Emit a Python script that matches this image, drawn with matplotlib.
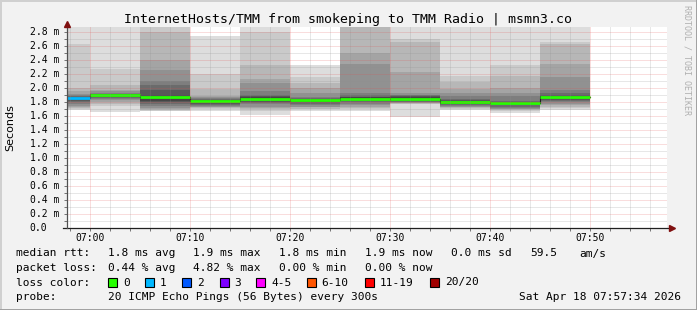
import matplotlib
matplotlib.use("Agg")
import matplotlib.pyplot as plt
from matplotlib.patches import Rectangle
from matplotlib.lines import Line2D

# step end times in minutes after 07:00 (each step covers the 5 minutes before it)
step_end = [0, 5, 10, 15, 20, 25, 30, 35, 40, 45, 50]
# lost pings per step (out of 20)
loss = [1, 0, 0, 0, 0, 0, 0, 0, 0, 0, 0]
# 20 sorted round trip times per step, ms
pings = [
    [1.69, 1.71, 1.72, 1.73, 1.75, 1.77, 1.80, 1.82, 1.84, 1.855, 1.865, 1.87, 1.88, 1.89, 1.90, 1.92, 1.96, 2.01, 2.63, 3.10],
    [1.66, 1.745, 1.77, 1.80, 1.83, 1.845, 1.86, 1.875, 1.89, 1.905, 1.91, 1.915, 1.92, 1.925, 1.93, 1.96, 1.98, 2.05, 2.28, 3.00],
    [1.67, 1.68, 1.69, 1.70, 1.72, 1.75, 1.77, 1.80, 1.82, 1.87, 1.89, 1.91, 1.98, 2.04, 2.11, 2.26, 2.41, 2.81, 2.95, 3.00],
    [1.67, 1.71, 1.72, 1.73, 1.74, 1.75, 1.76, 1.775, 1.80, 1.815, 1.825, 1.83, 1.84, 1.85, 1.86, 1.87, 1.89, 1.99, 2.21, 2.75],
    [1.62, 1.68, 1.70, 1.72, 1.74, 1.77, 1.79, 1.81, 1.83, 1.845, 1.855, 1.87, 1.89, 1.91, 1.96, 2.08, 2.14, 2.33, 2.81, 3.00],
    [1.67, 1.70, 1.71, 1.73, 1.74, 1.76, 1.78, 1.80, 1.81, 1.825, 1.835, 1.84, 1.85, 1.86, 1.87, 1.93, 2.00, 2.08, 2.16, 2.34],
    [1.67, 1.70, 1.72, 1.74, 1.76, 1.78, 1.80, 1.82, 1.835, 1.845, 1.86, 1.87, 1.88, 1.91, 1.93, 2.35, 2.50, 2.95, 3.00, 3.10],
    [1.585, 1.77, 1.78, 1.785, 1.79, 1.80, 1.81, 1.82, 1.83, 1.845, 1.86, 1.875, 1.89, 1.90, 1.91, 1.93, 2.24, 2.66, 2.71, 3.10],
    [1.69, 1.71, 1.72, 1.73, 1.74, 1.75, 1.76, 1.77, 1.78, 1.795, 1.805, 1.815, 1.83, 1.85, 1.89, 1.93, 1.99, 2.09, 2.18, 3.00],
    [1.65, 1.68, 1.69, 1.70, 1.71, 1.72, 1.73, 1.77, 1.78, 1.79, 1.795, 1.80, 1.81, 1.82, 1.89, 1.94, 2.01, 2.18, 2.33, 3.00],
    [1.69, 1.72, 1.74, 1.76, 1.78, 1.80, 1.82, 1.84, 1.86, 1.875, 1.885, 1.895, 1.91, 1.93, 1.97, 2.16, 2.35, 2.63, 2.66, 3.00],
]

x_ticks = [0, 10, 20, 30, 40, 50]
x_labels = ["07:00", "07:10", "07:20", "07:30", "07:40", "07:50"]
y_ticks = [0.0, 0.2, 0.4, 0.6, 0.8, 1.0, 1.2, 1.4, 1.6, 1.8, 2.0, 2.2, 2.4, 2.6, 2.8]

loss_labels = ["0", "1", "2", "3", "4-5", "6-10", "11-19", "20/20"]
loss_colors = ["#26ff00", "#00b8ff", "#0059ff", "#7e00ff", "#ff00ff", "#ff5500", "#ff0000", "#a00000"]

rtt_stats = ["1.8 ms avg", "1.9 ms max", "1.8 ms min", "1.9 ms now", "0.0 ms sd"]
loss_stats = ["0.44 % avg", "4.82 % max", "0.00 % min", "0.00 % now"]

W, H = 697, 310
MONO = "DejaVu Sans Mono"


def fx(x):
    return x / W


def fy(y):
    return 1 - y / H


def loss_index(n):
    if n <= 3:
        return n
    if n <= 5:
        return 4
    if n <= 10:
        return 5
    if n <= 19:
        return 6
    return 7


fig = plt.figure(figsize=(W / 100, H / 100), dpi=100, facecolor="#f2f2f2")
ax = fig.add_axes([fx(67), fy(228.3), fx(600), 201 / H])
ax.set_facecolor("white")
ax.set_xlim(-140 / 60, 57.6667)
ax.set_ylim(0, 201 / 70)
for s in ax.spines.values():
    s.set_visible(False)

# smoke: band i spans ping i .. ping 21-i, darker towards the middle
shades = ["#%02x%02x%02x" % ((int(190 / 10 * (10 - i)) + 50,) * 3) for i in range(1, 11)]
for k, t in enumerate(step_end):
    p = pings[k]
    for i in range(10):
        ax.bar(t - 5, p[19 - i] - p[i], bottom=p[i], width=5, align="edge",
               color=shades[i], linewidth=0, zorder=1)

# median line
xs, ys = [], []
for k, t in enumerate(step_end):
    med = (pings[k][9] + pings[k][10]) / 2
    xs += [t - 5, t]
    ys += [med, med]
ax.plot(xs, ys, color="#202020", lw=0.8, zorder=3)
for k, t in enumerate(step_end):
    med = (pings[k][9] + pings[k][10]) / 2
    ax.hlines(med, t - 5, t, color=loss_colors[loss_index(loss[k])], lw=2.0, zorder=4)

# grid, drawn on top like rrdtool
dot = (0, (1, 1))
for m in range(-2, 58, 2):
    if m % 10 == 0:
        ax.axvline(m, color="#e05050", alpha=0.38, lw=0.72, ls=dot, zorder=5)
    else:
        ax.axvline(m, color="#909090", alpha=0.42, lw=0.72, ls=dot, zorder=5)
for j in range(1, 29):
    v = j / 10
    if j % 2 == 0:
        ax.axhline(v, color="#e05050", alpha=0.38, lw=0.72, ls=dot, zorder=5)
    else:
        ax.axhline(v, color="#909090", alpha=0.42, lw=0.72, ls=dot, zorder=5)

ax.set_xticks(list(range(-2, 58, 2)))
ax.set_yticks([j / 10 for j in range(0, 29)])
ax.tick_params(direction="out", length=2, width=0.6, color="#606060",
               labelbottom=False, labelleft=False)

# axes with arrows
ax.plot([-0.006, 1.007], [0, 0], transform=ax.transAxes, color="#202020", lw=0.9,
        clip_on=False, zorder=6)
ax.plot([0, 0], [0, 1.012], transform=ax.transAxes, color="#505050", lw=0.9,
        clip_on=False, zorder=6)
ax.plot([1.009], [0], marker=">", ms=4, color="#801010", transform=ax.transAxes,
        clip_on=False, zorder=7)
ax.plot([0], [1.014], marker="^", ms=4, color="#801010", transform=ax.transAxes,
        clip_on=False, zorder=7)

# tick labels
for t, lab in zip(x_ticks, x_labels):
    fig.text(fx(67 + (t + 140 / 60) * 10), fy(238), lab, ha="center", va="center",
             fontsize=7, family=MONO)
for v in y_ticks:
    lab = "%.1f" % v if v == 0 else "%.1f m" % v
    fig.text(fx(29.5), fy(228.3 - v * 70), lab, ha="left", va="center",
             fontsize=7, family=MONO)

fig.text(fx(10), fy(128), "Seconds", rotation=90, ha="center", va="center", fontsize=8)
fig.text(fx(348), fy(19), "InternetHosts/TMM from smokeping to TMM Radio | msmn3.co",
         ha="center", va="center", fontsize=9.5, family=MONO)
fig.text(fx(687), fy(5), "RRDTOOL / TOBI OETIKER", rotation=-90, ha="center", va="top",
         fontsize=6, family=MONO, color="#b0b0b0")

# legend block
rows = [253.5, 268, 282.5, 297]
col = [107.6, 193, 279, 365, 451]
fig.text(fx(16), fy(rows[0]), "median rtt:", va="center", fontsize=8, family=MONO)
for c, s in zip(col, rtt_stats):
    fig.text(fx(c), fy(rows[0]), s, va="center", fontsize=8, family=MONO)
fig.text(fx(530), fy(rows[0]), "59.5", va="center", fontsize=8, family=MONO)
fig.text(fx(579), fy(rows[0]), "am/s", va="center", fontsize=8, family=MONO)

fig.text(fx(16), fy(rows[1]), "packet loss:", va="center", fontsize=8, family=MONO)
for c, s in zip(col, loss_stats):
    fig.text(fx(c), fy(rows[1]), s, va="center", fontsize=8, family=MONO)

fig.text(fx(16), fy(rows[2]), "loss color:", va="center", fontsize=8, family=MONO)
box_x = [108, 145, 182, 219.6, 256, 306.7, 365, 429.8]
for bx, lab, c in zip(box_x, loss_labels, loss_colors):
    fig.patches.append(Rectangle((fx(bx), fy(rows[2] + 4.5)), fx(9), 9 / H,
                                 transform=fig.transFigure, facecolor=c,
                                 edgecolor="black", lw=0.8))
    fig.text(fx(bx + 15), fy(rows[2]), lab, va="center", fontsize=8, family=MONO)

fig.text(fx(16), fy(rows[3]), "probe:", va="center", fontsize=8, family=MONO)
fig.text(fx(107.6), fy(rows[3]), "20 ICMP Echo Pings (56 Bytes) every 300s",
         va="center", fontsize=8, family=MONO)
fig.text(fx(681), fy(rows[3]), "Sat Apr 18 07:57:34 2026", ha="right",
         va="center", fontsize=8, family=MONO)

# 3d frame
fig.lines.append(Line2D([0, 1], [fy(0.5), fy(0.5)], transform=fig.transFigure, color="#d0d0d0", lw=1.4))
fig.lines.append(Line2D([fx(0.5), fx(0.5)], [0, 1], transform=fig.transFigure, color="#d0d0d0", lw=1.4))
fig.lines.append(Line2D([0, 1], [fy(309.5), fy(309.5)], transform=fig.transFigure, color="#a0a0a0", lw=1.4))
fig.lines.append(Line2D([fx(696.5), fx(696.5)], [0, 1], transform=fig.transFigure, color="#a0a0a0", lw=1.4))

fig.savefig("out.png", dpi=100, facecolor=fig.get_facecolor())
